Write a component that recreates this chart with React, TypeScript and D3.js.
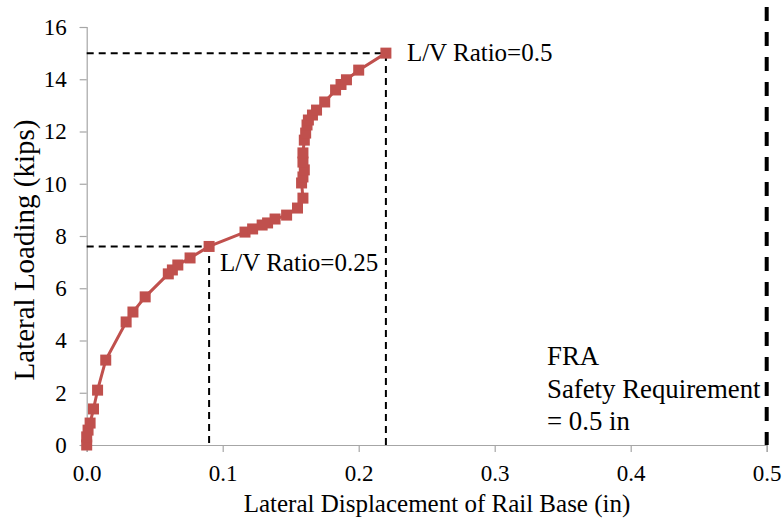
import React, { useRef, useEffect } from "react";
import * as d3 from "d3";

// lateral displacement (in) vs lateral loading (kips)
const displacement = [
  0.0, 0.0, 0.001, 0.0025, 0.005, 0.008, 0.014, 0.029, 0.034, 0.043, 0.06,
  0.063, 0.067, 0.076, 0.09, 0.1164, 0.122, 0.129, 0.133, 0.1385, 0.147,
  0.155, 0.159, 0.158, 0.159, 0.16, 0.159, 0.159, 0.16, 0.161, 0.162, 0.163,
  0.166, 0.169, 0.175, 0.183, 0.187, 0.191, 0.2, 0.22,
];
const loading = [
  0.0, 0.31, 0.57, 0.84, 1.38, 2.1, 3.25, 4.71, 5.09, 5.67, 6.55, 6.7, 6.89,
  7.16, 7.6, 8.15, 8.27, 8.42, 8.5, 8.65, 8.8, 9.07, 9.45, 10.03, 10.26,
  10.53, 10.83, 11.18, 11.67, 11.94, 12.25, 12.44, 12.63, 12.82, 13.13,
  13.59, 13.8, 13.98, 14.35, 15.0,
];
const xTicks = [0, 0.1, 0.2, 0.3, 0.4, 0.5];
const yTicks = [0, 2, 4, 6, 8, 10, 12, 14, 16];
// reference points for L/V ratio guides
const guideX = [0.09, 0.22];
const guideY = [7.6, 15];
const guideLabels = ["L/V Ratio=0.25", "L/V Ratio=0.5"];
const limitX = 0.5;
const limitLabel = ["FRA", "Safety Requirement", "= 0.5 in"];

const App = () => {
  const ref = useRef<SVGSVGElement>(null);

  useEffect(() => {
    const font = "'Liberation Serif', 'Times New Roman', serif";
    const red = "#C0504D";

    const svg = d3.select(ref.current);
    svg.selectAll("*").remove();

    const x = d3.scaleLinear().domain([0, 0.5]).range([86.7, 766.7]);
    const y = d3.scaleLinear().domain([0, 16]).range([445, 27]);

    // axes
    const xAxis = svg
      .append("g")
      .attr("transform", `translate(0, ${y(0)})`)
      .call(
        d3
          .axisBottom(x)
          .tickValues(xTicks)
          .tickFormat(d3.format(".1f"))
          .tickSizeOuter(0)
          .tickSize(7)
          .tickPadding(13)
      );
    const yAxis = svg
      .append("g")
      .attr("transform", `translate(${x(0)}, 0)`)
      .call(
        d3
          .axisLeft(y)
          .tickValues(yTicks)
          .tickSizeOuter(0)
          .tickSize(7)
          .tickPadding(13)
      );
    [xAxis, yAxis].forEach((g) => {
      g.attr("font-family", font).attr("font-size", 23);
      g.select(".domain").attr("stroke", "#a6a6a6").attr("stroke-width", 1.2);
      g.selectAll(".tick line").attr("stroke", "#a6a6a6").attr("stroke-width", 1.2);
      g.selectAll(".tick text").attr("fill", "#000");
    });

    // guide lines for L/V ratios
    guideX.forEach((gx, i) => {
      svg
        .append("path")
        .attr("d", `M${x(0)},${y(guideY[i])}H${x(gx)}V${y(0)}`)
        .attr("fill", "none")
        .attr("stroke", "#000")
        .attr("stroke-width", 2)
        .attr("stroke-dasharray", "7,5");
    });

    // FRA limit line
    svg
      .append("line")
      .attr("x1", x(limitX))
      .attr("x2", x(limitX))
      .attr("y1", 7)
      .attr("y2", y(0))
      .attr("stroke", "#000")
      .attr("stroke-width", 4)
      .attr("stroke-dasharray", "14,11");

    const pts = displacement.map((d, i) => [d, loading[i]] as [number, number]);

    const line = d3
      .line<[number, number]>()
      .x((d) => x(d[0]))
      .y((d) => y(d[1]));

    svg
      .append("path")
      .datum(pts)
      .attr("d", line)
      .attr("fill", "none")
      .attr("stroke", red)
      .attr("stroke-width", 3);

    const s = 11;
    svg
      .selectAll(".pt")
      .data(pts)
      .enter()
      .append("rect")
      .attr("class", "pt")
      .attr("x", (d) => x(d[0]) - s / 2)
      .attr("y", (d) => y(d[1]) - s / 2)
      .attr("width", s)
      .attr("height", s)
      .attr("fill", red);

    const txt = svg
      .append("g")
      .attr("font-family", font)
      .attr("font-size", 25)
      .attr("fill", "#000");

    // annotations
    txt
      .append("text")
      .attr("x", x(guideX[0]) + 11)
      .attr("y", y(guideY[0]) + 25)
      .text(guideLabels[0]);
    txt
      .append("text")
      .attr("x", x(guideX[1]) + 21)
      .attr("y", y(guideY[1]) + 8)
      .text(guideLabels[1]);
    txt
      .selectAll(".fra")
      .data(limitLabel)
      .enter()
      .append("text")
      .attr("class", "fra")
      .attr("x", 547)
      .attr("y", (d, i) => 365 + i * 32.5)
      .attr("font-size", 26.8)
      .text((d) => d);

    // axis titles
    txt
      .append("text")
      .attr("x", 437)
      .attr("y", 512)
      .attr("text-anchor", "middle")
      .text("Lateral Displacement of Rail Base (in)");
    txt
      .append("text")
      .attr("transform", "translate(34, 250) rotate(-90)")
      .attr("text-anchor", "middle")
      .attr("font-size", 29)
      .text("Lateral Loading (kips)");
  }, []);

  return (
    <svg
      ref={ref}
      width={783}
      height={522}
      style={{ position: "absolute", left: 0, top: 0, background: "#fff" }}
    />
  );
};

export default App;
